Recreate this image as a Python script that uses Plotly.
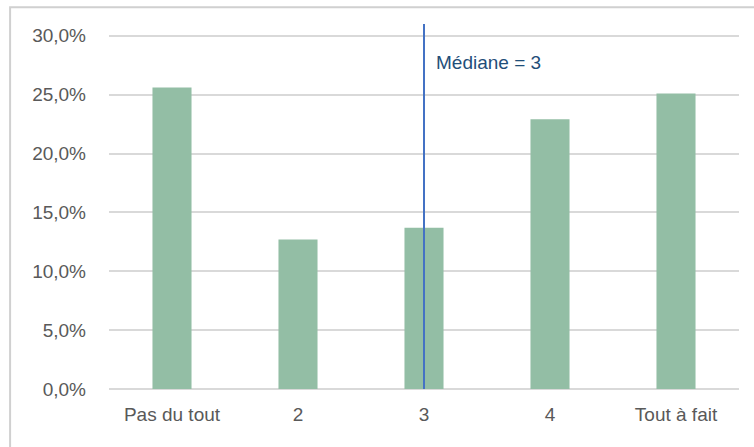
import plotly.graph_objects as go

categories = ["Pas du tout", "2", "3", "4", "Tout à fait"]
values = [25.6, 12.7, 13.7, 22.9, 25.1]
y_tickvals = [0, 5, 10, 15, 20, 25, 30]
y_ticktext = ["0,0%", "5,0%", "10,0%", "15,0%", "20,0%", "25,0%", "30,0%"]
median_category = "3"
median_label = "Médiane = 3"
y_max = 31

FONT = "Liberation Sans, Arial, sans-serif"

fig = go.Figure()
fig.add_trace(go.Bar(x=categories, y=values, marker_color="#93BEA5",
                     marker_line_width=0, hoverinfo="skip"))

median_idx = categories.index(median_category)

fig.add_shape(type="line", xref="x", yref="paper", x0=median_idx, x1=median_idx,
              y0=0, y1=1, line=dict(color="#4472C4", width=2))
fig.add_annotation(x=median_idx, y=27.7, xref="x", yref="y", text=median_label,
                   showarrow=False, xanchor="left", xshift=10,
                   font=dict(family=FONT, size=19, color="#1F4E79"))

# chart frame
fig.add_shape(type="rect", xref="paper", yref="paper", x0=-0.157, x1=1.2,
              y0=-0.4, y1=1.046, line=dict(color="#D0D0D0", width=2),
              layer="above")

fig.update_layout(
    width=754, height=447,
    margin=dict(l=109, r=15, t=24, b=58),
    paper_bgcolor="white", plot_bgcolor="white",
    bargap=0.69, showlegend=False,
    font=dict(family=FONT, size=19, color="#595959"),
    xaxis=dict(showgrid=False, showline=False, zeroline=False,
               tickfont=dict(size=19, color="#595959"), ticklabelstandoff=12),
    yaxis=dict(range=[0, y_max], tickvals=y_tickvals, ticktext=y_ticktext,
               showgrid=True, gridcolor="#D9D9D9", gridwidth=1.5,
               zeroline=True, zerolinecolor="#D9D9D9", zerolinewidth=1.5,
               showline=False, ticklabelstandoff=22,
               tickfont=dict(size=19, color="#595959")),
)

fig.write_html("out.html", config={"displayModeBar": False},
               post_script="document.body.style.margin='0px';")
